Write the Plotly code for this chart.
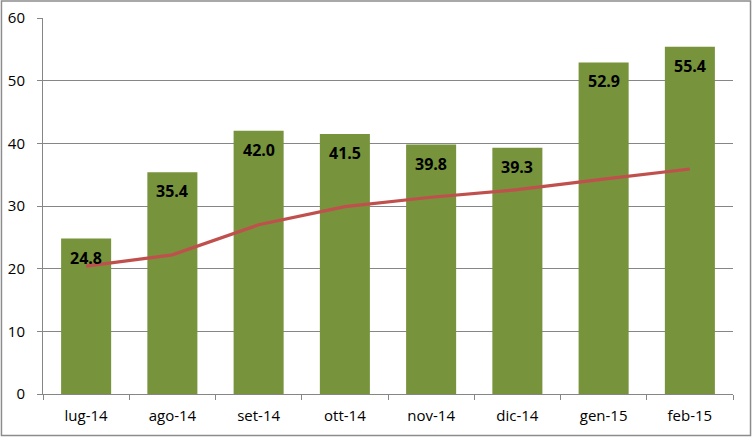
import plotly.graph_objects as go

categories = ["lug-14", "ago-14", "set-14", "ott-14", "nov-14", "dic-14", "gen-15", "feb-15"]
bar_values = [24.8, 35.4, 42.0, 41.5, 39.8, 39.3, 52.9, 55.4]
line_values = [20.4, 22.2, 27.0, 29.9, 31.4, 32.6, 34.3, 35.9]
y_ticks = [0, 10, 20, 30, 40, 50, 60]

FONT = "Open Sans"
AXIS = "#868686"

fig = go.Figure()
fig.add_trace(go.Bar(x=categories, y=bar_values, marker=dict(color="#77933C", line=dict(width=0)),
                     showlegend=False, hoverinfo="skip"))
fig.add_trace(go.Scatter(x=categories, y=line_values, mode="lines",
                         line=dict(color="#C0504D", width=3.2), showlegend=False))

for c, v in zip(categories, bar_values):
    fig.add_annotation(x=c, y=v, text="<b>%.1f</b>" % v, showarrow=False,
                       yanchor="middle", yshift=-19,
                       font=dict(family=FONT, size=16, color="#000000"))

fig.update_layout(
    width=752, height=437,
    margin=dict(l=43, r=19, t=18, b=43, autoexpand=False),
    paper_bgcolor="white", plot_bgcolor="white",
    bargap=0.42,
    font=dict(family=FONT, size=15, color="#000000"),
    xaxis=dict(showline=True, linecolor=AXIS, linewidth=1, ticks="outside", tickson="boundaries",
               ticklen=5, tickcolor=AXIS, showgrid=False, ticklabelstandoff=8, automargin=False,
               tickfont=dict(family=FONT, size=15)),
    yaxis=dict(range=[0, 60], tickvals=y_ticks, showline=True, linecolor=AXIS, linewidth=1,
               ticks="outside", ticklen=5, tickcolor=AXIS, gridcolor=AXIS, gridwidth=1,
               zeroline=False, ticklabelstandoff=9, automargin=False, tickfont=dict(family=FONT, size=15)),
    shapes=[dict(type="rect", xref="paper", yref="paper", x0=-0.0602, x1=1.0254, y0=-0.1104, y1=1.0452,
                 line=dict(color="#8C8C8C", width=1.5), fillcolor="rgba(0,0,0,0)", layer="above")],
)

fig.write_html("out.html", config={"displayModeBar": False},
               post_script="document.body.style.margin='0px';document.body.style.padding='0px';")
